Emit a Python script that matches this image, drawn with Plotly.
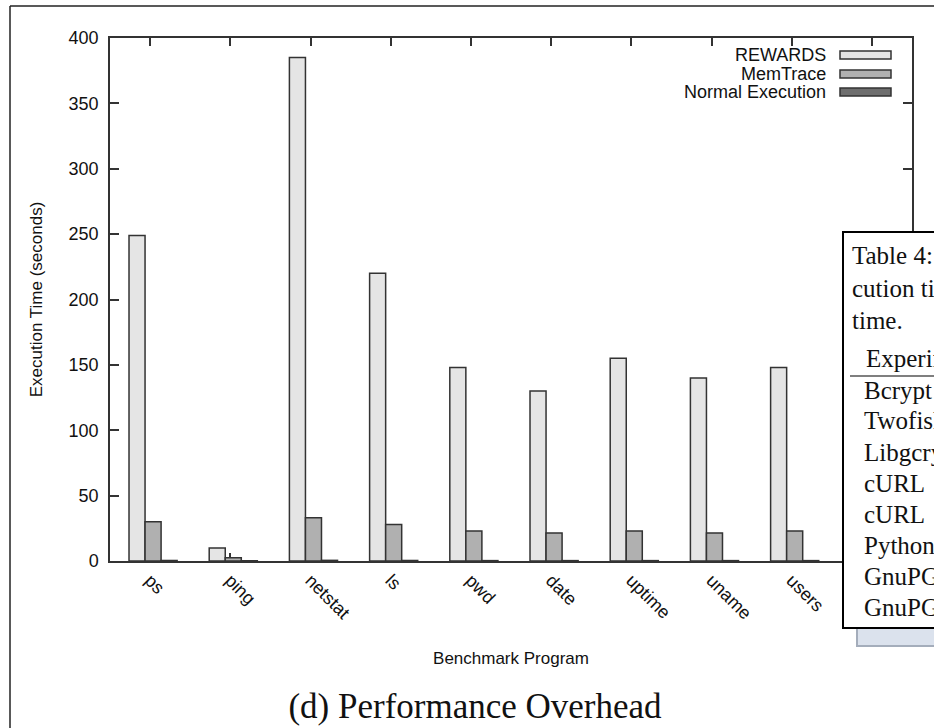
import plotly.graph_objects as go

# ---- data ----
programs = ["ps", "ping", "netstat", "ls", "pwd", "date", "uptime", "uname", "users", ""]
rewards = [249, 10, 385, 220, 148, 130, 155, 140, 148, None]
memtrace = [30, 2.5, 33, 28, 23, 21.5, 23, 21.5, 23, None]
normal = [0.4, 0.2, 0.5, 0.4, 0.3, 0.3, 0.3, 0.3, 0.3, None]
series_names = ["REWARDS", "MemTrace", "Normal Execution"]
series_colors = ["#e5e5e5", "#b0b0b0", "#6e6e6e"]
y_ticks = [0, 50, 100, 150, 200, 250, 300, 350, 400]
table_lines = ["Table 4: Exe-", "cution time of", "time."]
table_header = "Experiment"
table_rows = ["Bcrypt", "Twofish", "Libgcrypt", "cURL", "cURL", "Python", "GnuPG", "GnuPG"]

# ---- layout geometry (pixels) ----
W, H = 934, 728
L, R, T, B = 110, 912, 38, 561

def px(x):
    return (x - L) / (R - L)

def py(y):
    return (B - y) / (B - T)

idx = list(range(len(programs)))
bar_w = 0.2
fig = go.Figure()
for k, (name, vals, col) in enumerate(zip(series_names, [rewards, memtrace, normal], series_colors)):
    fig.add_trace(go.Bar(
        x=idx, y=vals, name=name, width=bar_w, offset=-0.263 + k * bar_w,
        marker=dict(color=col, line=dict(color="#333333", width=1.5)),
        showlegend=False,
    ))

sans = "Liberation Sans, Arial, sans-serif"
serif = "Liberation Serif, Times New Roman, serif"
axis_col = "#333333"

fig.update_layout(
    width=W, height=H,
    margin=dict(l=L, r=W - R, t=T, b=H - B, pad=0),
    paper_bgcolor="white", plot_bgcolor="white",
    barmode="overlay",
    font=dict(family=sans, size=18, color="#111111"),
    title=dict(text="(d) Performance Overhead", x=475 / W, xref="container", xanchor="center",
               y=1 - 706 / H, yref="container", yanchor="middle",
               font=dict(family=serif, size=35, color="#111111")),
)
fig.update_xaxes(
    type="linear", range=[-0.5, len(programs) - 0.5],
    tickvals=idx, ticktext=programs, tickangle=45,
    ticks="inside", ticklen=8, tickwidth=1.5, tickcolor=axis_col,
    showline=True, linecolor=axis_col, linewidth=1.5, mirror="ticks",
    showgrid=False, zeroline=False, layer="below traces",
    tickfont=dict(size=18, family=sans),
    title=dict(text="Benchmark Program", standoff=30, font=dict(size=17, family=sans)),
)
fig.update_yaxes(
    range=[0, 400], tickvals=y_ticks,
    ticks="inside", ticklen=9, tickwidth=1.5, tickcolor=axis_col,
    showline=True, linecolor=axis_col, linewidth=1.5, mirror="ticks",
    showgrid=False, zeroline=False, layer="below traces",
    tickfont=dict(size=18, family=sans), ticklabelstandoff=6,
    title=dict(text="Execution Time (seconds)", standoff=22, font=dict(size=17, family=sans)),
)

shapes = []
annotations = []

# manual legend (text left of swatch, as in gnuplot)
legend_y = [55, 74, 92]
for name, col, yc in zip(series_names, series_colors, legend_y):
    shapes.append(dict(type="rect", xref="paper", yref="paper",
                       x0=px(840), x1=px(891), y0=py(yc + 4), y1=py(yc - 4),
                       fillcolor=col, line=dict(color="#333333", width=1.5), layer="above"))
    annotations.append(dict(text=name, xref="paper", yref="paper", x=px(828), y=py(yc),
                            xanchor="right", yanchor="middle", showarrow=False,
                            font=dict(family=sans, size=18, color="#111111")))

# outer page frame
shapes.append(dict(type="line", xref="paper", yref="paper", x0=px(10), x1=px(10),
                   y0=py(6), y1=py(740), line=dict(color="#222222", width=1.5), layer="above"))
shapes.append(dict(type="line", xref="paper", yref="paper", x0=px(10), x1=px(950),
                   y0=py(6), y1=py(6), line=dict(color="#222222", width=1.5), layer="above"))

# overlapping table from the page
shapes.append(dict(type="rect", xref="paper", yref="paper", x0=px(857), x1=px(960),
                   y0=py(646), y1=py(620), fillcolor="#dbe2ed",
                   line=dict(color="#a4adbb", width=2), layer="above"))
shapes.append(dict(type="rect", xref="paper", yref="paper", x0=px(843), x1=px(960),
                   y0=py(628), y1=py(232), fillcolor="white",
                   line=dict(color="#000000", width=2), layer="above"))
shapes.append(dict(type="line", xref="paper", yref="paper", x0=px(850), x1=px(960),
                   y0=py(376), y1=py(376), line=dict(color="#000000", width=1.2), layer="above"))

tfont = dict(family=serif, size=25, color="#111111")
for txt, yc in zip(table_lines, [256, 288, 320]):
    annotations.append(dict(text=txt, xref="paper", yref="paper", x=px(850), y=py(yc),
                            xanchor="left", yanchor="middle", showarrow=False, font=tfont))
annotations.append(dict(text=table_header, xref="paper", yref="paper", x=px(864), y=py(358),
                        xanchor="left", yanchor="middle", showarrow=False, font=tfont))
for i, txt in enumerate(table_rows):
    annotations.append(dict(text=txt, xref="paper", yref="paper", x=px(862), y=py(390 + i * 31),
                            xanchor="left", yanchor="middle", showarrow=False, font=tfont))

fig.update_layout(shapes=shapes, annotations=annotations)
fig.write_html("out.html", config={"displayModeBar": False},
               post_script="document.body.style.margin='0';")
